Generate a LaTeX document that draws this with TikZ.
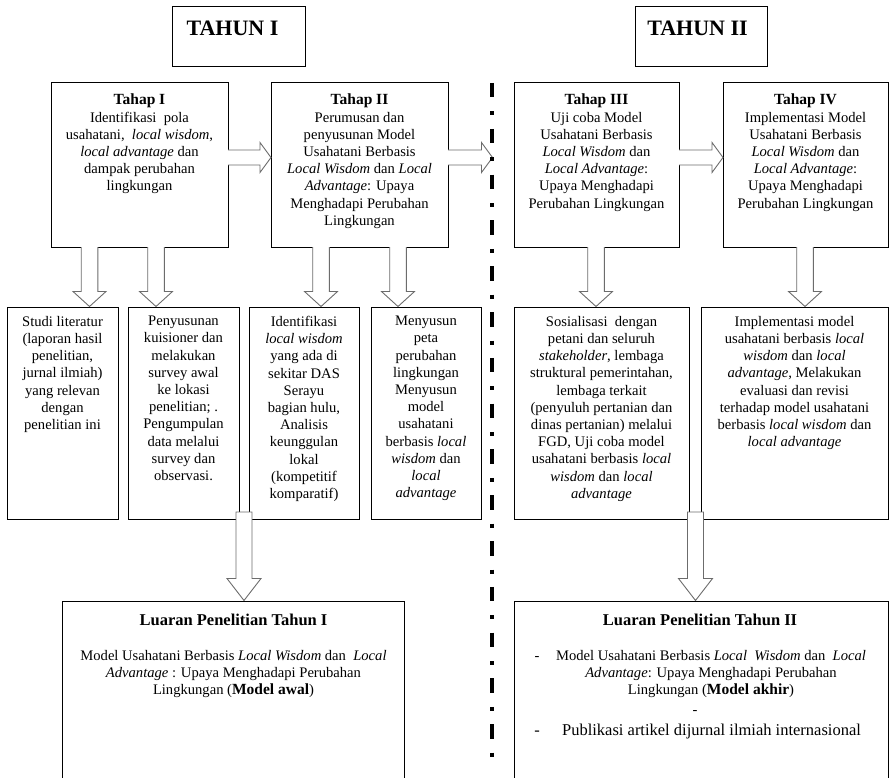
\documentclass[tikz,border=0pt]{standalone}
\usepackage{fontspec}
\setmainfont{Liberation Serif}
\usetikzlibrary{fit}
\newcommand\hdfont{\fontsize{15.5}{17.2}\selectfont\bfseries}
\newcommand\rarr[3]{\filldraw[barrow] (#1,#3-7.5) -- (#2-11,#3-7.5) -- (#2-11,#3-15) -- (#2,#3) -- (#2-11,#3+15) -- (#2-11,#3+7.5) -- (#1,#3+7.5);}
\newcommand\darr[3]{\filldraw[barrow] (#1-8.3,#2) -- (#1-8.3,#3-15) -- (#1-16.5,#3-15) -- (#1,#3) -- (#1+16.5,#3-15) -- (#1+8.3,#3-15) -- (#1+8.3,#2);}
\newcommand\bigdarr[3]{\filldraw[barrow] (#1-8,#2) -- (#1-8,#3-22) -- (#1-17,#3-22) -- (#1,#3) -- (#1+17,#3-22) -- (#1+8,#3-22) -- (#1+8,#2) -- cycle;}
\begin{document}
\begin{tikzpicture}[x=1pt,y=-1pt,
  box/.style={draw=black, line width=0.8pt, inner sep=0pt, outer sep=0pt},
  txt/.style={align=center, inner sep=0pt, anchor=north, font=\fontsize{14.6}{17.2}\selectfont},
  ttl/.style={inner sep=0pt, anchor=north, font=\fontsize{16.5}{19}\selectfont\bfseries},
  year/.style={inner sep=0pt, anchor=base, font=\fontsize{22}{26}\selectfont\bfseries},
  barrow/.style={draw=gray!85!black, line width=0.9pt, fill=white, line join=miter},
  sep/.style={line width=4pt, dash pattern=on 14.5pt off 14pt on 4pt off 13.3pt}]
\useasboundingbox (0,0) rectangle (891,778);
% year boxes
\node[box, fit={(172,6) (305,66)}] (y1) {};
\node[year] (y1t) at (232.5,35.5) {TAHUN I};
\node[box, fit={(635,6) (767,66)}] (y2) {};
\node[year] (y2t) at (697.5,35.5) {TAHUN II};
% stage boxes
\node[box, fit={(51,82) (228,247)}] (s1) {};
\node[box, fit={(271,82) (448,247)}] (s2) {};
\node[box, fit={(514,82) (679,247)}] (s3) {};
\node[box, fit={(723,82) (888,247)}] (s4) {};
\node[txt] (s1t) at (139.5,94) {{\hdfont Tahap I}\\Identifikasi\ \ pola\\usahatani,\ \ \textit{local wisdom},\\\textit{local advantage} dan\\dampak perubahan\\lingkungan};
\node[txt] (s2t) at (359.5,94) {{\hdfont Tahap II}\\Perumusan dan\\penyusunan Model\\Usahatani Berbasis\\\textit{Local Wisdom} dan \textit{Local}\\\textit{Advantage}: Upaya\\Menghadapi Perubahan\\Lingkungan};
\node[txt] (s3t) at (596.5,94) {{\hdfont Tahap III}\\Uji coba Model\\Usahatani Berbasis\\\textit{Local Wisdom} dan\\\textit{Local Advantage}:\\Upaya Menghadapi\\Perubahan Lingkungan};
\node[txt] (s4t) at (805.5,94) {{\hdfont Tahap IV}\\Implementasi Model\\Usahatani Berbasis\\\textit{Local Wisdom} dan\\\textit{Local Advantage}:\\Upaya Menghadapi\\Perubahan Lingkungan};
% activity boxes
\node[box, fit={(7,307) (118,519)}] (a1) {};
\node[box, fit={(128,307) (239,519)}] (a2) {};
\node[box, fit={(249,307) (359,519)}] (a3) {};
\node[box, fit={(371,307) (481,519)}] (a4) {};
\node[box, fit={(514,307) (689,519)}] (a5) {};
\node[box, fit={(701,307) (888,519)}] (a6) {};
\node[txt] (a1t) at (62.5,316) {Studi literatur\\(laporan hasil\\penelitian,\\jurnal ilmiah)\\yang relevan\\dengan\\penelitian ini};
\node[txt] (a2t) at (183.5,316) {Penyusunan\\kuisioner dan\\melakukan\\survey awal\\ke lokasi\\penelitian; .\\Pengumpulan\\data melalui\\survey dan\\observasi.};
\node[txt] (a3t) at (304,316) {Identifikasi\\\textit{local wisdom}\\yang ada di\\sekitar DAS\\Serayu\\bagian hulu,\\Analisis\\keunggulan\\lokal\\(kompetitif\\komparatif)};
\node[txt] (a4t) at (426,316) {Menyusun\\peta\\perubahan\\lingkungan\\Menyusun\\model\\usahatani\\berbasis \textit{local}\\\textit{wisdom} dan\\\textit{local}\\\textit{advantage}};
\node[txt] (a5t) at (601.5,316) {Sosialisasi\ \ dengan\\petani dan seluruh\\\textit{stakeholder}, lembaga\\struktural pemerintahan,\\lembaga terkait\\(penyuluh pertanian dan\\dinas pertanian) melalui\\FGD, Uji coba model\\usahatani berbasis \textit{local}\\\textit{wisdom} dan \textit{local}\\\textit{advantage}};
\node[txt] (a6t) at (794.5,316) {Implementasi model\\usahatani berbasis \textit{local}\\\textit{wisdom} dan \textit{local}\\\textit{advantage}, Melakukan\\evaluasi dan revisi\\terhadap model usahatani\\berbasis \textit{local wisdom} dan\\\textit{local advantage}};
% output boxes
\node[box, fit={(62,601) (404,790)}] (o1) {};
\node[box, fit={(514,601) (888,790)}] (o2) {};
\node[ttl] (o1h) at (233.5,614) {Luaran Penelitian Tahun I};
\node[ttl] (o2h) at (700,614) {Luaran Penelitian Tahun II};
\node[txt] (o1t) at (233.5,650) {Model Usahatani Berbasis \textit{Local Wisdom} dan\ \ \textit{Local}\\\textit{Advantage} : Upaya Menghadapi Perubahan\\Lingkungan ({\bfseries\fontsize{15.5}{17.2}\selectfont Model awal})};
\node[txt] (o2t) at (711,650) {Model Usahatani Berbasis \textit{Local\ \ Wisdom} dan\ \ \textit{Local}\\\textit{Advantage}: Upaya Menghadapi Perubahan\\Lingkungan ({\bfseries\fontsize{15.5}{17.2}\selectfont Model akhir})};
\node[inner sep=0pt, anchor=base, font=\fontsize{14.6}{17.2}\selectfont] (d1) at (537,660) {-};
\node[inner sep=0pt, anchor=base, font=\fontsize{14.6}{17.2}\selectfont] (d2) at (695,714) {-};
\node[inner sep=0pt, anchor=base, font=\fontsize{16.5}{19}\selectfont] (d3) at (537,735) {-};
\node[inner sep=0pt, anchor=base, font=\fontsize{16.5}{19}\selectfont] (o2p) at (711.5,735) {Publikasi artikel dijurnal ilmiah internasional};
% horizontal block arrows
\rarr{228}{271}{157.5}
\rarr{448}{492.5}{157.5}
\rarr{679}{723}{157.5}
% small down arrows
\darr{89.5}{247}{306.5}
\darr{156}{247}{306.5}
\darr{321}{247}{306.5}
\darr{398}{247}{306.5}
\darr{596}{247}{306.5}
\darr{805}{247}{306.5}
% big down arrows
\bigdarr{244}{512}{600.5}
\bigdarr{695.5}{512}{600.5}
% separator
\draw[sep] (492,83) -- (492,757);
\end{tikzpicture}
\end{document}
